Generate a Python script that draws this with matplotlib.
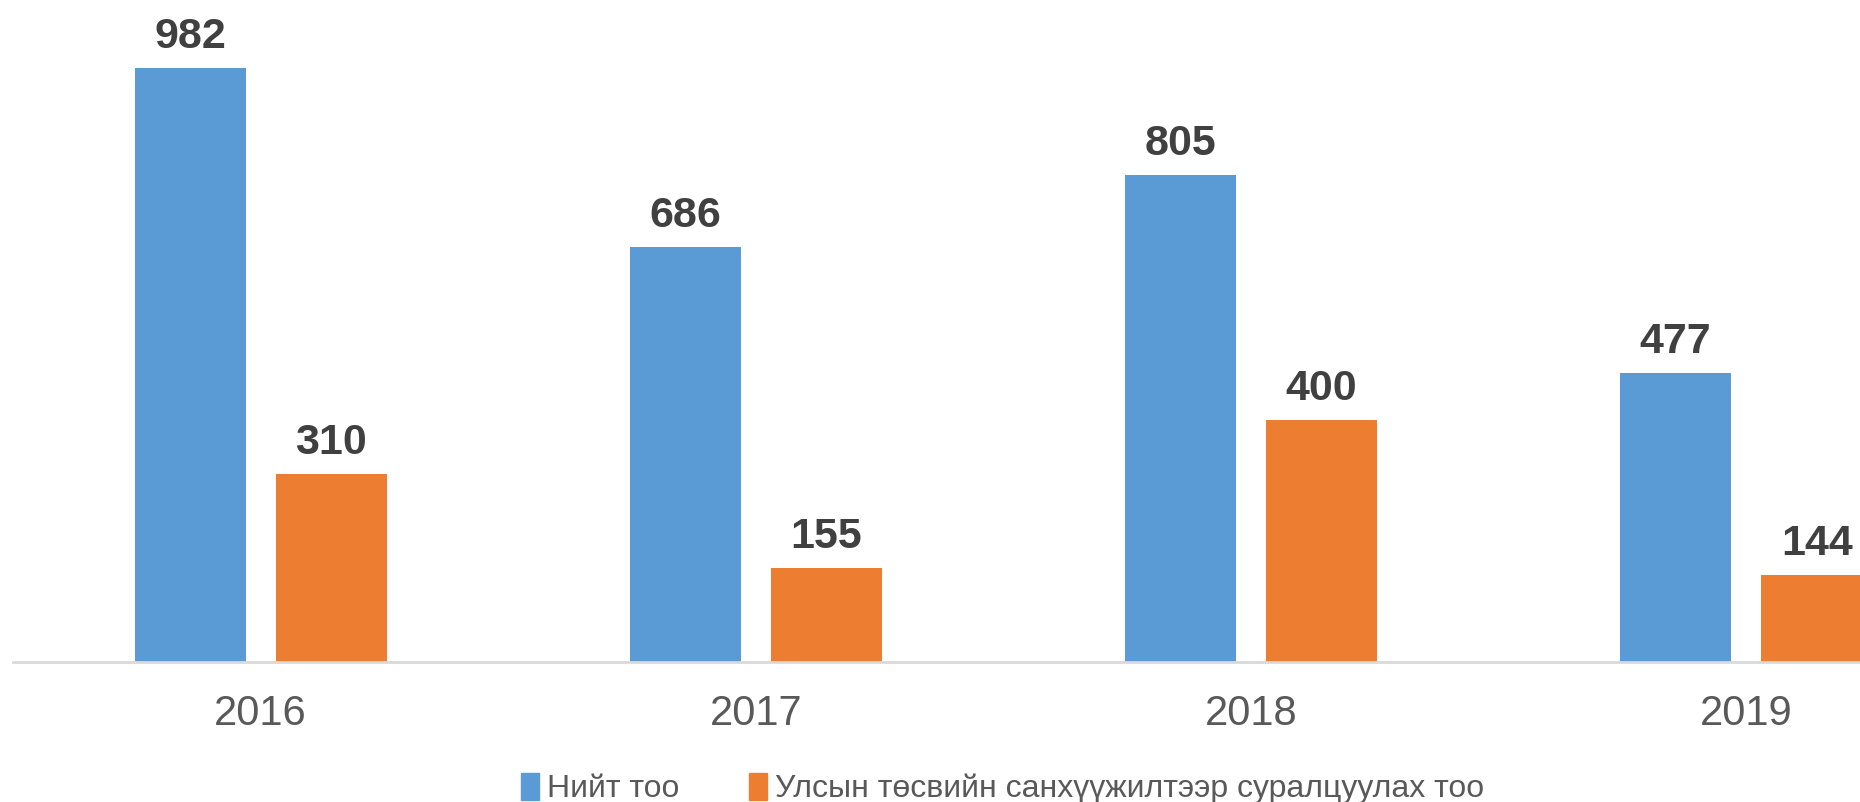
import numpy as np
import matplotlib.pyplot as plt
from matplotlib.patches import Patch

plt.rcParams['font.family'] = ['Liberation Sans', 'DejaVu Sans']

years = ["2016", "2017", "2018", "2019"]
total = [982, 686, 805, 477]
state_funded = [310, 155, 400, 144]
series_names = ["Нийт тоо", "Улсын төсвийн санхүүжилтээр суралцуулах тоо"]

blue = "#5B9BD5"
orange = "#ED7D31"

fig = plt.figure(figsize=(18.6, 8.02), dpi=100)
ax = fig.add_axes([0.007, 0.1746, 0.993, 0.8254])

x = np.arange(len(years))
width = 0.224
gap = 0.061

b1 = ax.bar(x - (width + gap) / 2, total, width, color=blue)
b2 = ax.bar(x + (width + gap) / 2, state_funded, width, color=orange)

for bars in (b1, b2):
    ax.bar_label(bars, padding=8, fontsize=31, fontweight="bold", color="#404040")

ax.set_xlim(-0.5, 3.23)
ax.set_ylim(0, 1094)
ax.set_xticks(x)
ax.set_xticklabels(years, fontsize=30, color="#595959")
ax.tick_params(axis="x", length=0, pad=23)
ax.set_yticks([])
for side in ("top", "right", "left"):
    ax.spines[side].set_visible(False)
ax.spines["bottom"].set_color("#D9D9D9")
ax.spines["bottom"].set_linewidth(2)

# legend below the axis
handles = [Patch(color=blue), Patch(color=orange)]
fig.legend(handles, series_names, loc="center", bbox_to_anchor=(0.539, 0.0165),
           ncol=2, frameon=False, fontsize=23, labelcolor="#595959",
           handlelength=0.55, handleheight=0.9, handletextpad=0.25, columnspacing=2.2)

fig.savefig("out.png", dpi=100, facecolor="white")
